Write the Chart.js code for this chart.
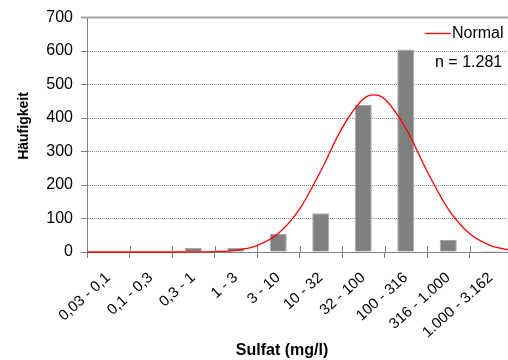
<!DOCTYPE html>
<html>
<head>
<meta charset="utf-8">
<script src="https://cdn.jsdelivr.net/npm/chart.js@4.4.1/dist/chart.umd.min.js"></script>
<style>
  html, body { margin: 0; padding: 0; background: #fff; overflow: hidden; }
  #wrap { width: 508px; height: 360px; overflow: hidden; }
</style>
</head>
<body>
<div id="wrap"><canvas id="sulfatChart" width="520" height="360"></canvas></div>
<script>
// Klassen (mg/l) und Häufigkeiten
const classes = ['0,03 - 0,1', '0,1 - 0,3', '0,3 - 1', '1 - 3', '3 - 10', '10 - 32',
                 '32 - 100', '100 - 316', '316 - 1.000', '1.000 - 3.162'];
const counts = [0, 0, 12, 12, 54, 116, 439, 605, 36, 3];
const yTicks = [0, 100, 200, 300, 400, 500, 600, 700];

const normalPos  = [-0.5, 0, 0.5, 1, 1.5, 2, 2.5, 3, 3.5, 4, 4.5, 5, 5.5, 6, 6.25, 6.5, 7, 7.5, 8, 8.5, 9, 9.5];
const normalVals = [0, 0, 0, 0, 0, 0.2, 1.2, 5, 19, 55, 128, 242, 370, 457, 469, 457, 370, 242, 128, 55, 19, 5];

const sampleSize = 'n = 1.281';
const FONT = "'Liberation Sans', Arial, sans-serif";

const overlay = {
  id: 'overlay',
  afterDatasetsDraw(chart) {
    const { ctx, chartArea: a, scales } = chart;
    const xs = scales.xLine;
    ctx.save();
    // solid top border
    ctx.strokeStyle = '#a6a6a6';
    ctx.lineWidth = 2;
    ctx.beginPath();
    ctx.moveTo(a.left - 6, a.top);
    ctx.lineTo(a.right, a.top);
    ctx.stroke();
    // tick marks crossing the baseline
    ctx.strokeStyle = '#808080';
    ctx.lineWidth = 1;
    ctx.beginPath();
    for (let i = 0; i <= classes.length; i++) {
      const px = Math.round(xs.getPixelForValue(i - 0.5)) + 0.5;
      ctx.moveTo(px, a.bottom - 6);
      ctx.lineTo(px, a.bottom);
    }
    ctx.stroke();
    // legend inside the plot
    ctx.strokeStyle = '#ff0000';
    ctx.lineWidth = 1.3;
    ctx.beginPath();
    ctx.moveTo(425, 33.5);
    ctx.lineTo(451, 33.5);
    ctx.stroke();
    ctx.fillStyle = '#000';
    ctx.font = '16px ' + FONT;
    ctx.textBaseline = 'middle';
    ctx.textAlign = 'left';
    ctx.fillText('Normal', 452, 33.5);
    ctx.fillText(sampleSize, 435, 63);
    // axis titles
    ctx.font = 'bold 16px ' + FONT;
    ctx.textAlign = 'center';
    ctx.textBaseline = 'alphabetic';
    ctx.fillText('Sulfat (mg/l)', 282, 355);
    ctx.translate(24, 126);
    ctx.rotate(-Math.PI / 2);
    ctx.font = 'bold 14px ' + FONT;
    ctx.textBaseline = 'middle';
    ctx.fillText('Häufigkeit', 0, 0);
    ctx.restore();
  }
};

new Chart(document.getElementById('sulfatChart'), {
  type: 'bar',
  data: {
    labels: classes,
    datasets: [{
      type: 'line',
      label: 'Normal',
      data: normalPos.map((p, i) => ({ x: p, y: normalVals[i] })),
      xAxisID: 'xLine',
      borderColor: '#ff0000',
      borderWidth: 1.3,
      pointRadius: 0,
      cubicInterpolationMode: 'monotone',
      clip: 4,
      order: 0
    }, {
      type: 'bar',
      label: 'Häufigkeit',
      data: counts,
      xAxisID: 'x',
      grouped: false,
      backgroundColor: '#808080',
      borderColor: '#a8a8a8',
      borderWidth: 1,
      categoryPercentage: 1,
      barPercentage: 0.4,
      order: 1
    }]
  },
  options: {
    responsive: false,
    animation: false,
    layout: { padding: { top: 17, right: 8, left: 0, bottom: 0 } },
    plugins: { legend: { display: false }, tooltip: { enabled: false } },
    scales: {
      x: {
        type: 'category',
        offset: true,
        afterFit: s => { s.height = 108; },
        grid: { drawOnChartArea: false, offset: true, tickLength: 6, color: '#808080' },
        border: { color: '#808080' },
        ticks: {
          autoSkip: false, maxRotation: 42, minRotation: 42, padding: 11,
          color: '#000', font: { family: FONT, size: 15 }
        }
      },
      xLine: {
        type: 'linear',
        display: false,
        offset: false,
        grid: { offset: false },
        min: -0.5,
        max: 9.5
      },
      y: {
        min: 0,
        max: 700,
        afterFit: s => { s.width = 87; },
        afterBuildTicks: s => { s.ticks = yTicks.map(v => ({ value: v })); },
        grid: {
          color: c => c.tick && c.tick.value === 700 ? 'rgba(0,0,0,0)' : '#8c8c8c',
          tickColor: '#808080',
          tickLength: 6,
          tickBorderDash: []
        },
        border: { color: '#808080', dash: [1, 1] },
        ticks: { padding: 8, color: '#000', font: { family: FONT, size: 16 } }
      }
    }
  },
  plugins: [overlay]
});
</script>
</body>
</html>
